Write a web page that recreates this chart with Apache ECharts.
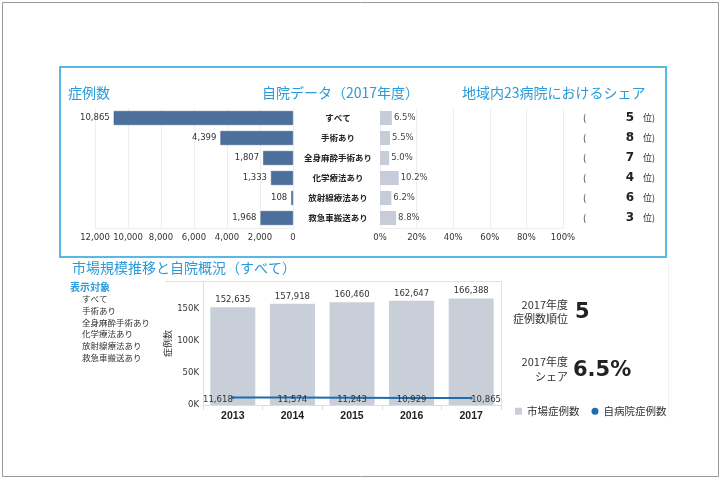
<!DOCTYPE html>
<html><head><meta charset="utf-8">
<script src="https://cdn.jsdelivr.net/npm/echarts@6/dist/echarts.min.js"></script>
<style>html,body{margin:0;padding:0;background:#fff}#c{width:722px;height:480px}</style>
</head><body><div id="c"></div>
<script>
// ---- data ----
const categories = ['すべて','手術あり','全身麻酔手術あり','化学療法あり','放射線療法あり','救急車搬送あり'];
const caseCounts = [10865, 4399, 1807, 1333, 108, 1968];
const sharePct = [6.5, 5.5, 5.0, 10.2, 6.2, 8.8];
const ranks = [5, 8, 7, 4, 6, 3];
const years = ['2013','2014','2015','2016','2017'];
const marketCases = [152635, 157918, 160460, 162647, 166388];
const hospitalCases = [11618, 11574, 11243, 10929, 10865];
const kpiRankLabel = ['2017年度','症例数順位'];
const kpiRank = '5';
const kpiShareLabel = ['2017年度','シェア'];
const kpiShare = '6.5%';
const titles = ['症例数','自院データ（2017年度）','地域内23病院におけるシェア','市場規模推移と自院概況（すべて）','表示対象'];
const seriesNames = ['市場症例数','自病院症例数'];

// ---- styles ----
const NUM = '"DejaVu Sans", "Noto Sans CJK JP", sans-serif';
const JP = '"Noto Sans CJK JP", sans-serif';
const BLUE = '#2a9bd7';
const fmt = v => Number(v).toLocaleString('en-US');

const chart = echarts.init(document.getElementById('c'), null, {renderer:'canvas'});

const graphics = [
  {type:'rect', shape:{x:2.5,y:2.5,width:716,height:474}, style:{fill:'none', stroke:'#9a9a9a', lineWidth:1}},
  {type:'rect', shape:{x:60,y:67,width:606,height:190}, style:{fill:'none', stroke:'#5ab9e2', lineWidth:2}},
  {type:'line', shape:{x1:165,y1:281.5,x2:501,y2:281.5}, style:{stroke:'#e2e2e2', lineWidth:1}},
  {type:'line', shape:{x1:501.5,y1:281,x2:501.5,y2:405}, style:{stroke:'#e2e2e2', lineWidth:1}},
  {type:'line', shape:{x1:668.5,y1:262,x2:668.5,y2:417}, style:{stroke:'#f0f0f0', lineWidth:1}},
  {type:'text', x:68, y:93, style:{text:titles[0], fontFamily:JP, fontSize:14, fill:BLUE, verticalAlign:'middle'}},
  {type:'text', x:262, y:93, style:{text:titles[1], fontFamily:JP, fontSize:14, fill:BLUE, verticalAlign:'middle'}},
  {type:'text', x:462, y:93, style:{text:titles[2], fontFamily:JP, fontSize:14, fill:BLUE, verticalAlign:'middle'}},
  {type:'text', x:72, y:268, style:{text:titles[3], fontFamily:JP, fontSize:14, fill:BLUE, verticalAlign:'middle'}},
  {type:'text', x:70, y:287, style:{text:titles[4], fontFamily:JP, fontSize:10, fontWeight:'bold', fill:BLUE, verticalAlign:'middle'}},
  {type:'text', x:568, y:305, style:{text:kpiRankLabel[0], fontFamily:JP, fontSize:11, fill:'#333', align:'right', verticalAlign:'middle'}},
  {type:'text', x:568, y:319, style:{text:kpiRankLabel[1], fontFamily:JP, fontSize:11, fill:'#333', align:'right', verticalAlign:'middle'}},
  {type:'text', x:575, y:313, style:{text:kpiRank, fontFamily:NUM, fontSize:21, fontWeight:'bold', fill:'#222', verticalAlign:'middle'}},
  {type:'text', x:568, y:362, style:{text:kpiShareLabel[0], fontFamily:JP, fontSize:11, fill:'#333', align:'right', verticalAlign:'middle'}},
  {type:'text', x:568, y:377, style:{text:kpiShareLabel[1], fontFamily:JP, fontSize:11, fill:'#333', align:'right', verticalAlign:'middle'}},
  {type:'text', x:573, y:371, style:{text:kpiShare, fontFamily:NUM, fontSize:21, fontWeight:'bold', fill:'#222', verticalAlign:'middle'}}
];
categories.forEach((c,i)=>{
  graphics.push({type:'text', x:82, y:298.5 + i*11.9, style:{text:c, fontFamily:JP, fontSize:8.5, fill:'#333', verticalAlign:'middle'}});
});

const option = {
  animation:false,
  textStyle:{fontFamily:NUM},
  grid:[
    {left:95, width:198, top:108, height:120},
    {left:380, width:183, top:108, height:120},
    {left:583, width:80, top:108, height:120},
    {left:203, width:298, top:282, height:123}
  ],
  xAxis:[
    {gridIndex:0, type:'value', inverse:true, min:0, max:12000, interval:2000,
     axisLabel:{fontSize:8.5, color:'#333', formatter:fmt, margin:6},
     splitLine:{lineStyle:{color:'#eeeeee'}}, axisLine:{show:true, lineStyle:{color:'#eeeeee'}}, axisTick:{show:false}},
    {gridIndex:1, type:'value', min:0, max:100, interval:20,
     axisLabel:{fontSize:8.5, color:'#333', formatter:'{value}%', margin:6},
     splitLine:{lineStyle:{color:'#eeeeee'}}, axisLine:{show:true, lineStyle:{color:'#eeeeee'}}, axisTick:{show:false}},
    {gridIndex:2, type:'value', show:false, min:0, max:1},
    {gridIndex:3, type:'category', data:years,
     axisLabel:{fontFamily:'"Liberation Sans", sans-serif', fontWeight:'bold', fontSize:10.5, color:'#222', margin:6},
     axisTick:{show:true, length:5, lineStyle:{color:'#dddddd'}}, axisLine:{lineStyle:{color:'#dddddd'}}}
  ],
  yAxis:[
    {gridIndex:0, type:'category', data:categories, inverse:true, position:'right',
     axisLine:{show:false}, axisTick:{show:false},
     axisLabel:{align:'center', margin:45, fontSize:8.5, fontWeight:'bold', color:'#222', fontFamily:JP}},
    {gridIndex:1, type:'category', data:categories, inverse:true, show:false},
    {gridIndex:2, type:'category', data:categories, inverse:true, position:'left',
     axisLine:{show:false}, axisTick:{show:false},
     axisLabel:{inside:true, margin:0, align:'left',
       formatter:(v,i)=>'{p|(}{n|'+ranks[i]+'}{u|位)}',
       rich:{p:{width:42, fontSize:9, color:'#333', fontFamily:JP},
             n:{width:10, align:'right', fontSize:12, fontWeight:'bold', color:'#222', fontFamily:NUM},
             u:{fontSize:9, color:'#333', fontFamily:JP, padding:[0,0,0,8]}}}},
    {gridIndex:3, type:'value', min:0, max:192000, interval:50000,
     name:'症例数', nameLocation:'middle', nameGap:31, nameRotate:90,
     nameTextStyle:{fontFamily:JP, fontSize:9, color:'#333'},
     axisLabel:{fontSize:8.5, color:'#333', margin:4, formatter:v=> (v % 50000 === 0 ? (v/1000)+'K' : '')},
     splitLine:{show:false}, axisLine:{show:true, lineStyle:{color:'#dddddd'}}, axisTick:{show:false}}
  ],
  legend:{
    left:510, top:401, itemWidth:7, itemHeight:7, itemGap:12,
    textStyle:{fontFamily:JP, fontSize:10.5, color:'#333'},
    data:[{name:seriesNames[0], icon:'rect'},{name:seriesNames[1], icon:'circle'}]
  },
  series:[
    {type:'bar', xAxisIndex:0, yAxisIndex:0, data:caseCounts, barWidth:14,
     itemStyle:{color:'#4c6f9c', borderColor:'#3d5d87', borderWidth:0.5},
     label:{show:true, position:'left', distance:4, fontSize:8.5, color:'#333', formatter:p=>fmt(p.value)}},
    {type:'bar', xAxisIndex:1, yAxisIndex:1, data:sharePct, barWidth:14,
     itemStyle:{color:'#c6cdd9'},
     label:{show:true, position:'right', distance:2, fontSize:8.5, color:'#444', formatter:p=>p.value.toFixed(1)+'%'}},
    {type:'bar', name:seriesNames[0], xAxisIndex:3, yAxisIndex:3, data:marketCases, barWidth:45,
     itemStyle:{color:'#c8cfd9'},
     label:{show:true, position:'top', distance:3, fontSize:8.5, color:'#333', formatter:p=>fmt(p.value)}},
    {type:'line', name:seriesNames[1], xAxisIndex:3, yAxisIndex:3, z:5,
     data:hospitalCases.map((v,i)=>({value:v, label:{align: i===0 ? 'right' : (i===hospitalCases.length-1 ? 'left' : 'center')}})),
     lineStyle:{color:'#1f6db1', width:2}, itemStyle:{color:'#1f6db1'}, symbol:'circle', symbolSize:3,
     label:{show:true, position:'inside', offset:[0,2], fontSize:8.5, color:'#333', formatter:p=>fmt(p.value)}}
  ],
  graphic:graphics
};
chart.setOption(option);
</script>
</body></html>
